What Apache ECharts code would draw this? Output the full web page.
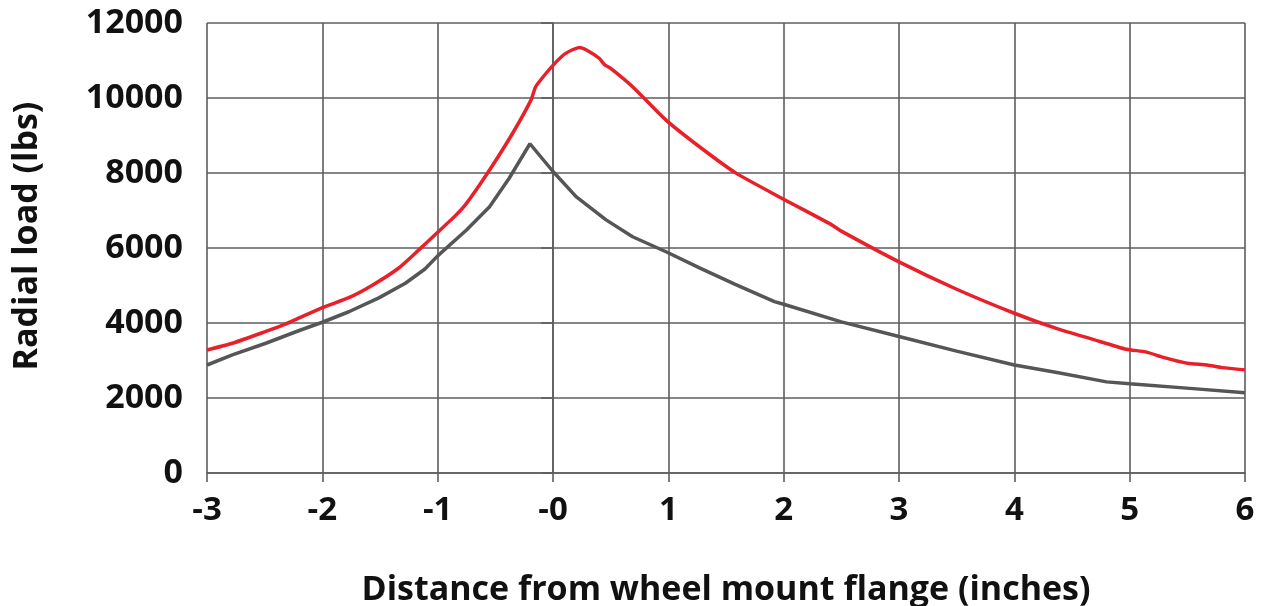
<!DOCTYPE html>
<html>
<head>
<meta charset="utf-8">
<script src="https://cdn.jsdelivr.net/npm/echarts@6/dist/echarts.min.js"></script>
<style>
html,body{margin:0;padding:0;background:#fff;}
#chart{width:1263px;height:606px;}
</style>
</head>
<body>
<div id="chart"></div>
<script>
// Distance from wheel mount flange (inches) and radial load (lbs)
const redX = [-3, -2.78, -2.49, -2.32, -2, -1.77, -1.57, -1.34, -1.17, -1, -0.85, -0.75, -0.55, -0.35, -0.19, -0.15, -0.06, 0.03, 0.11, 0.23, 0.29, 0.40, 0.45, 0.50, 0.69, 0.98, 1.27, 1.58, 2, 2.41, 2.5, 3, 3.5, 4, 4.37, 4.68, 4.97, 5.14, 5.3, 5.5, 5.67, 5.8, 6];
const redY = [3280, 3460, 3775, 3970, 4410, 4675, 5000, 5460, 5930, 6420, 6850, 7190, 8080, 9060, 9950, 10300, 10660, 10970, 11190, 11350, 11280, 11060, 10880, 10790, 10300, 9410, 8700, 8010, 7300, 6630, 6450, 5630, 4900, 4260, 3850, 3565, 3300, 3230, 3075, 2925, 2880, 2810, 2750];

const grayX = [-3, -2.78, -2.49, -2.2, -2, -1.77, -1.51, -1.28, -1.11, -1, -0.75, -0.55, -0.38, -0.2, 0, 0.2, 0.46, 0.69, 0.98, 1.27, 1.58, 1.92, 2, 2.5, 3, 3.5, 4, 4.37, 4.8, 5, 5.55, 6];
const grayY = [2880, 3150, 3460, 3800, 4020, 4300, 4670, 5060, 5440, 5790, 6480, 7100, 7860, 8780, 8040, 7370, 6750, 6300, 5900, 5470, 5030, 4570, 4500, 4030, 3640, 3250, 2880, 2680, 2430, 2380, 2250, 2140];

const xTickLabels = {"-3":"-3","-2":"-2","-1":"-1","0":"-0","1":"1","2":"2","3":"3","4":"4","5":"5","6":"6"};
const yTitle = "Radial load (lbs)";
const xTitle = "Distance from wheel mount flange (inches)";

const pair = (xs, ys) => xs.map((x, i) => [x, ys[i]]);

const font = "'Open Sans', 'DejaVu Sans', sans-serif";
const gridColor = '#5e5e5e';

const chart = echarts.init(document.getElementById('chart'), null, {renderer: 'canvas'});
chart.setOption({
  animation: false,
  backgroundColor: '#ffffff',
  grid: {left: 207, right: 18, top: 23, bottom: 133, containLabel: false, outerBoundsMode: 'none'},
  xAxis: {
    type: 'value', min: -3, max: 6, interval: 1,
    name: xTitle, nameLocation: 'middle', nameGap: 100,
    nameTextStyle: {fontFamily: font, fontWeight: 'bold', fontSize: 34, color: '#111'},
    axisLine: {show: true, onZero: false, lineStyle: {color: gridColor, width: 1.6}},
    axisTick: {show: true, length: 9, lineStyle: {color: gridColor, width: 1.6}},
    axisLabel: {margin: 21, fontFamily: font, fontWeight: 'bold', fontSize: 33, color: '#111',
      formatter: v => xTickLabels[String(v)] !== undefined ? xTickLabels[String(v)] : String(v)},
    splitLine: {show: true, lineStyle: {color: gridColor, width: 1.6}}
  },
  yAxis: {
    type: 'value', min: 0, max: 12000, interval: 2000,
    name: yTitle, nameLocation: 'middle', nameGap: 163, nameRotate: 90,
    nameTextStyle: {fontFamily: font, fontWeight: 'bold', fontSize: 34, color: '#111', padding: [0, 0, 0, 24]},
    axisLine: {show: true, lineStyle: {color: gridColor, width: 1.6}},
    axisTick: {show: true, length: 12, lineStyle: {color: gridColor, width: 1.6}},
    axisLabel: {margin: 24, fontFamily: font, fontWeight: 'bold', fontSize: 34, color: '#111',
      formatter: v => String(v)},
    splitLine: {show: true, lineStyle: {color: gridColor, width: 1.6}}
  },
  series: [
    {name: 'Gray', type: 'line', data: pair(grayX, grayY), showSymbol: false, smooth: false,
      lineStyle: {color: '#555658', width: 3.5}, itemStyle: {color: '#555658'}},
    {name: 'Red', type: 'line', data: pair(redX, redY), showSymbol: false, smooth: 0.2,
      lineStyle: {color: '#e8202a', width: 3.5}, itemStyle: {color: '#e8202a'}}
  ]
});
</script>
</body>
</html>
